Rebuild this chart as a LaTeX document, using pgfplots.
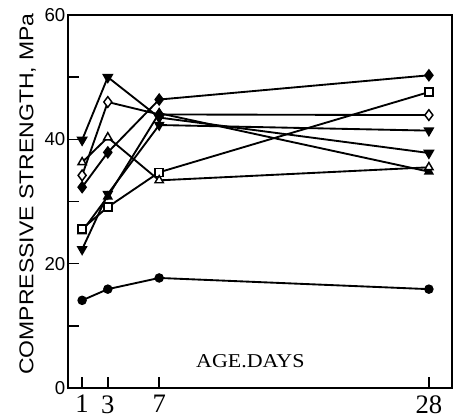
\documentclass[border=0pt]{standalone}
\usepackage{fontspec}
\setmainfont{Liberation Serif}
\setsansfont{Liberation Sans}
\newfontfamily\ylabfont[FakeStretch=1.15]{Liberation Sans}
\newfontfamily\xlabfont[FakeStretch=1.12]{Liberation Serif}
\usepackage{pgfplots}
\pgfplotsset{compat=1.18}

\tikzset{
  ser/.style={black, line width=1.4pt, mark options={solid, line width=1.1pt}},
  openm/.style={mark options={fill=white, line width=1.1pt}},
}

\begin{document}
\begin{tikzpicture}
  \begin{axis}[
    scale only axis,
    width=288pt, height=279.75pt,
    xmin=-0.1, xmax=29.8, ymin=0, ymax=60,
    axis line style={line width=1.6pt},
    xtick={1,3,7,28},
    ytick={0,10,...,60},
    yticklabels={0,,20,,40,,60},
    tick align=inside, xtick pos=bottom, ytick pos=left,
    major tick length=8pt,
    tick style={line width=1.1pt, black},
    x tick label style={font=\fontsize{20}{20}\selectfont, yshift=-2pt},
    y tick label style={font=\sffamily\fontsize{14}{14}\selectfont, xshift=1.5pt},
    /pgf/number format/assume math mode=true,
    ylabel={COMPRESSIVE STRENGTH, MPa},
    ylabel style={font=\ylabfont\fontsize{15}{15}\selectfont,
                  at={(axis description cs:-0.105,0.52)}, anchor=center},
    clip=false,
  ]
    % filled circle
    \addplot[ser, mark=*, mark size=3pt] coordinates {
      (1,14.1) (3,15.9) (7,17.7) (28,15.9)};
    % filled diamond
    \addplot[ser, mark=diamond*, mark size=4pt] coordinates {
      (1,32.3) (3,37.9) (7,46.4) (28,50.3)};
    % open diamond
    \addplot[ser, openm, mark=diamond*, mark size=4pt] coordinates {
      (1,34.2) (3,46.0) (7,44.0) (28,43.9)};
    % filled up triangle
    \addplot[ser, mark=triangle*, mark size=3.4pt] coordinates {
      (1,25.2) (3,30.8) (7,44.2) (28,34.8)};
    % open square
    \addplot[ser, openm, mark=square*, mark size=3pt] coordinates {
      (1,25.6) (3,29.1) (7,34.7) (28,47.6)};
    % filled down triangle
    \addplot[ser, mark=triangle*, mark size=3.4pt,
      mark options={rotate=180}] coordinates {
      (1,22.3) (3,31.2) (7,42.3) (28,41.4)};
    % open down triangle
    \addplot[ser, openm, mark=triangle*, mark size=3.6pt,
      mark options={rotate=180}] coordinates {
      (1,39.9) (3,50.0) (7,43.5) (28,37.8)};
    % open up triangle
    \addplot[ser, openm, mark=triangle*, mark size=3.6pt] coordinates {
      (1,36.3) (3,40.3) (7,33.4) (28,35.5)};

    \node[font=\xlabfont\fontsize{14.7}{14.7}\selectfont] at (axis cs:14.1,4.3) {AGE.DAYS};
  \end{axis}
  \pgfresetboundingbox
  \path[use as bounding box] (current axis.south west) ++(-51pt,-23.25pt)
    rectangle ([shift={(0.75pt,11.25pt)}]current axis.north east);
\end{tikzpicture}
\end{document}
